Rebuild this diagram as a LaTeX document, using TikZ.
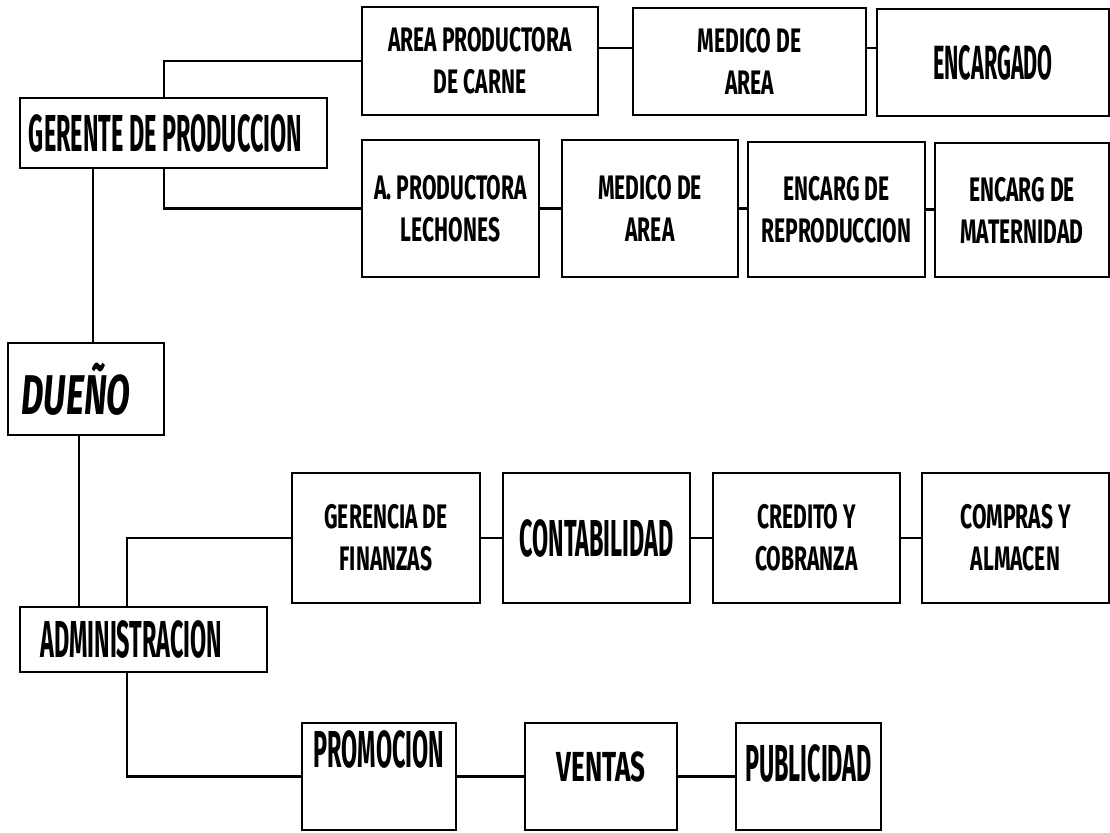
\documentclass[tikz,border=0pt]{standalone}
\usepackage{fontspec}
\usepackage{tikz}
\newfontfamily\handfont{Fira Sans}[FakeStretch=0.62]
\newfontfamily\bighandfont{Fira Sans}[FakeStretch=0.45]
\tikzset{
  box/.style={draw, line width=1.2pt, align=center, inner sep=1pt,
    font=\handfont\bfseries\fontsize{17}{21}\selectfont},
  bigbox/.style={box, font=\bighandfont\bfseries\fontsize{24}{26}\selectfont},
  hugebox/.style={box, font=\bighandfont\bfseries\fontsize{26}{28}\selectfont},
  link/.style={line width=1.2pt}
}
\begin{document}
\begin{tikzpicture}[x=0.5pt,y=-0.5pt]
      \useasboundingbox (0,0) rectangle (1110,832);
      % produccion
      \node[hugebox, minimum width=153.5pt, minimum height=35pt] (ger) at (173.5,133) {GERENTE DE PRODUCCION\hspace{8pt}};
      \node[box, minimum width=118pt, minimum height=54pt] (carne) at (480,61) {AREA PRODUCTORA\\DE CARNE};
      \node[box, minimum width=116.5pt, minimum height=53.5pt] (med1) at (749.5,61.5) {MEDICO DE\\AREA};
      \node[bigbox, minimum width=116pt, minimum height=53.5pt] (enc) at (993,62.5) {ENCARGADO};
      \node[box, minimum width=88.5pt, minimum height=68.5pt] (lech) at (450.5,208.5) {A. PRODUCTORA\\LECHONES};
      \node[box, minimum width=88pt, minimum height=68.5pt] (med2) at (650,208.5) {MEDICO DE\\AREA};
      \node[box, minimum width=88.5pt, minimum height=67.5pt] (rep) at (836.5,209.5) {ENCARG DE\\REPRODUCCION};
      \node[box, minimum width=87pt, minimum height=67pt] (mat) at (1022,210) {ENCARG DE\\MATERNIDAD};
      % dueno
      \node[box, font=\handfont\bfseries\itshape\fontsize{28}{30}\selectfont, minimum width=78pt, minimum height=46pt] (due) at (86,389) {DUEÑO\hspace{10pt}};
      % administracion
      \node[hugebox, minimum width=123.5pt, minimum height=32.5pt] (adm) at (143.5,639.5) {ADMINISTRACION\hspace{12pt}};
      \node[box, minimum width=94pt, minimum height=65pt] (fin) at (386,538) {GERENCIA DE\\FINANZAS};
      \node[hugebox, minimum width=93.5pt, minimum height=65pt] (cont) at (596.5,538) {CONTABILIDAD};
      \node[box, minimum width=93.5pt, minimum height=65pt] (cred) at (806.5,538) {CREDITO Y\\COBRANZA};
      \node[box, minimum width=93.5pt, minimum height=65pt] (comp) at (1015.5,538) {COMPRAS Y\\ALMACEN};
      \node[hugebox, minimum width=77pt, minimum height=53.5pt, text depth=27pt] (promo) at (379,776.5) {PROMOCION};
      \node[box, font=\handfont\bfseries\fontsize{21}{23}\selectfont, minimum width=76pt, minimum height=53.5pt, text depth=10pt] (ven) at (601,776.5) {VENTAS};
      \node[hugebox, minimum width=72.5pt, minimum height=53.5pt, text depth=13pt] (pub) at (808.5,776.5) {PUBLICIDAD};

      \coordinate (prodbus) at (164,0);
      \coordinate (topbus) at (0,48);
      \coordinate (ownerup) at (93,0);
      \coordinate (ownerdown) at (79,0);
      \coordinate (adminbus) at (127,0);

      \draw[link] (carne.west) -| (prodbus |- ger.north);
      \draw[link] (lech.west) -| (prodbus |- ger.south);
      \draw[link] (carne.east |- topbus) -- (med1.west |- topbus);
      \draw[link] (med1.east |- topbus) -- (enc.west |- topbus);
      \draw[link] (lech.east) -- (med2.west);
      \draw[link] (med2.east) -- (rep.west |- med2.east);
      \draw[link] (rep.east) -- (mat.west |- rep.east);
      \draw[link] (ger.south -| ownerup) -- (due.north -| ownerup);
      \draw[link] (due.south -| ownerdown) -- (adm.north -| ownerdown);
      \draw[link] (fin.west) -| (adminbus |- adm.north);
      \draw[link] (fin.east) -- (cont.west);
      \draw[link] (cont.east) -- (cred.west);
      \draw[link] (cred.east) -- (comp.west);
      \draw[link] (promo.west) -| (adminbus |- adm.south);
      \draw[link] (promo.east) -- (ven.west);
      \draw[link] (ven.east) -- (pub.west);
    \end{tikzpicture}
\end{document}
